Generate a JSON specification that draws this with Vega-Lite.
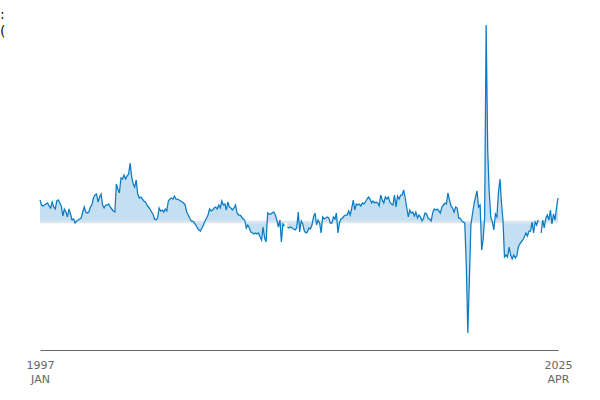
{
  "$schema": "https://vega.github.io/schema/vega-lite/v6.1.0.json",
  "width": 518,
  "height": 330,
  "autosize": {"type": "none"},
  "padding": {"left": 40, "top": 20, "right": 42, "bottom": 50},
  "title": {
    "text": [":", "("],
    "anchor": "start",
    "frame": "group",
    "dx": -40,
    "dy": 23,
    "font": "DejaVu Sans",
    "fontSize": 14,
    "fontWeight": "normal",
    "lineHeight": 17,
    "color": "#111111"
  },
  "data": {
    "values": [
      {"d": "1997-01", "v": 22}, {"d": "1997-02", "v": 17}, {"d": "1997-03", "v": 16}, {"d": "1997-04", "v": 17},
      {"d": "1997-05", "v": 18}, {"d": "1997-06", "v": 19}, {"d": "1997-07", "v": 16}, {"d": "1997-08", "v": 14},
      {"d": "1997-09", "v": 20}, {"d": "1997-10", "v": 15}, {"d": "1997-11", "v": 13}, {"d": "1997-12", "v": 21},
      {"d": "1998-01", "v": 22}, {"d": "1998-02", "v": 19}, {"d": "1998-03", "v": 16}, {"d": "1998-04", "v": 6},
      {"d": "1998-05", "v": 13}, {"d": "1998-06", "v": 10}, {"d": "1998-07", "v": 5}, {"d": "1998-08", "v": 13},
      {"d": "1998-09", "v": 8}, {"d": "1998-10", "v": 2}, {"d": "1998-11", "v": 3}, {"d": "1998-12", "v": -1},
      {"d": "1999-01", "v": 1}, {"d": "1999-02", "v": 2}, {"d": "1999-03", "v": 3}, {"d": "1999-04", "v": 4},
      {"d": "1999-05", "v": 10}, {"d": "1999-06", "v": 15}, {"d": "1999-07", "v": 10}, {"d": "1999-08", "v": 9},
      {"d": "1999-09", "v": 10}, {"d": "1999-10", "v": 15}, {"d": "1999-11", "v": 17}, {"d": "1999-12", "v": 24},
      {"d": "2000-01", "v": 27}, {"d": "2000-02", "v": 28}, {"d": "2000-03", "v": 20}, {"d": "2000-04", "v": 25},
      {"d": "2000-05", "v": 28}, {"d": "2000-06", "v": 17}, {"d": "2000-07", "v": 14}, {"d": "2000-08", "v": 17},
      {"d": "2000-09", "v": 17}, {"d": "2000-10", "v": 18}, {"d": "2000-11", "v": 15}, {"d": "2000-12", "v": 13},
      {"d": "2001-01", "v": 11}, {"d": "2001-02", "v": 10}, {"d": "2001-03", "v": 38}, {"d": "2001-04", "v": 33},
      {"d": "2001-05", "v": 29}, {"d": "2001-06", "v": 44}, {"d": "2001-07", "v": 43}, {"d": "2001-08", "v": 47},
      {"d": "2001-09", "v": 43}, {"d": "2001-10", "v": 46}, {"d": "2001-11", "v": 48}, {"d": "2001-12", "v": 59},
      {"d": "2002-01", "v": 45}, {"d": "2002-02", "v": 38}, {"d": "2002-03", "v": 35}, {"d": "2002-04", "v": 42},
      {"d": "2002-05", "v": 28}, {"d": "2002-06", "v": 24}, {"d": "2002-07", "v": 25}, {"d": "2002-08", "v": 23},
      {"d": "2002-09", "v": 21}, {"d": "2002-10", "v": 20}, {"d": "2002-11", "v": 17}, {"d": "2002-12", "v": 15},
      {"d": "2003-01", "v": 13}, {"d": "2003-02", "v": 10}, {"d": "2003-03", "v": 8}, {"d": "2003-04", "v": 3},
      {"d": "2003-05", "v": 2}, {"d": "2003-06", "v": 4}, {"d": "2003-07", "v": 14}, {"d": "2003-08", "v": 11},
      {"d": "2003-09", "v": 12}, {"d": "2003-10", "v": 10}, {"d": "2003-11", "v": 13}, {"d": "2003-12", "v": 11},
      {"d": "2004-01", "v": 21}, {"d": "2004-02", "v": 23}, {"d": "2004-03", "v": 24}, {"d": "2004-04", "v": 23},
      {"d": "2004-05", "v": 26}, {"d": "2004-06", "v": 23}, {"d": "2004-07", "v": 23}, {"d": "2004-08", "v": 22},
      {"d": "2004-09", "v": 21}, {"d": "2004-10", "v": 20}, {"d": "2004-11", "v": 19}, {"d": "2004-12", "v": 17},
      {"d": "2005-01", "v": 10}, {"d": "2005-02", "v": 7}, {"d": "2005-03", "v": 4}, {"d": "2005-04", "v": 1},
      {"d": "2005-05", "v": 1}, {"d": "2005-06", "v": -1}, {"d": "2005-07", "v": -3}, {"d": "2005-08", "v": -6},
      {"d": "2005-09", "v": -8}, {"d": "2005-10", "v": -9}, {"d": "2005-11", "v": -6}, {"d": "2005-12", "v": -3},
      {"d": "2006-01", "v": 1}, {"d": "2006-02", "v": 4}, {"d": "2006-03", "v": 7}, {"d": "2006-04", "v": 13},
      {"d": "2006-05", "v": 11}, {"d": "2006-06", "v": 12}, {"d": "2006-07", "v": 14}, {"d": "2006-08", "v": 15},
      {"d": "2006-09", "v": 13}, {"d": "2006-10", "v": 17}, {"d": "2006-11", "v": 14}, {"d": "2006-12", "v": 21},
      {"d": "2007-01", "v": 17}, {"d": "2007-02", "v": 18}, {"d": "2007-03", "v": 12}, {"d": "2007-04", "v": 20},
      {"d": "2007-05", "v": 15}, {"d": "2007-06", "v": 14}, {"d": "2007-07", "v": 12}, {"d": "2007-08", "v": 14},
      {"d": "2007-09", "v": 17}, {"d": "2007-10", "v": 9}, {"d": "2007-11", "v": 7}, {"d": "2007-12", "v": 7},
      {"d": "2008-01", "v": 5}, {"d": "2008-02", "v": 3}, {"d": "2008-03", "v": 2}, {"d": "2008-04", "v": -6},
      {"d": "2008-05", "v": -3}, {"d": "2008-06", "v": -6}, {"d": "2008-07", "v": -10}, {"d": "2008-08", "v": -11},
      {"d": "2008-09", "v": -12}, {"d": "2008-10", "v": -11}, {"d": "2008-11", "v": -12}, {"d": "2008-12", "v": -11},
      {"d": "2009-01", "v": -15}, {"d": "2009-02", "v": -18}, {"d": "2009-03", "v": -5}, {"d": "2009-04", "v": -16},
      {"d": "2009-05", "v": -20}, {"d": "2009-06", "v": 9}, {"d": "2009-07", "v": 8}, {"d": "2009-08", "v": 8},
      {"d": "2009-09", "v": 9}, {"d": "2009-10", "v": 10}, {"d": "2009-11", "v": 7}, {"d": "2009-12", "v": 2},
      {"d": "2010-01", "v": -5}, {"d": "2010-02", "v": 2}, {"d": "2010-03", "v": -20}, {"d": "2010-04", "v": -2},
      {"d": "2010-05", "v": -4}, {"d": "2010-06", "v": null}, {"d": "2010-07", "v": -5}, {"d": "2010-08", "v": -6},
      {"d": "2010-09", "v": -5}, {"d": "2010-10", "v": -6}, {"d": "2010-11", "v": -7}, {"d": "2010-12", "v": -8},
      {"d": "2011-01", "v": -6}, {"d": "2011-02", "v": 10}, {"d": "2011-03", "v": -10}, {"d": "2011-04", "v": 1},
      {"d": "2011-05", "v": -2}, {"d": "2011-06", "v": -9}, {"d": "2011-07", "v": -11}, {"d": "2011-08", "v": -10},
      {"d": "2011-09", "v": -6}, {"d": "2011-10", "v": -7}, {"d": "2011-11", "v": -3}, {"d": "2011-12", "v": 5},
      {"d": "2012-01", "v": 9}, {"d": "2012-02", "v": -3}, {"d": "2012-03", "v": 2}, {"d": "2012-04", "v": -1},
      {"d": "2012-05", "v": -11}, {"d": "2012-06", "v": 5}, {"d": "2012-07", "v": 3}, {"d": "2012-08", "v": 4},
      {"d": "2012-09", "v": 5}, {"d": "2012-10", "v": 4}, {"d": "2012-11", "v": -1}, {"d": "2012-12", "v": -1},
      {"d": "2013-01", "v": 5}, {"d": "2013-02", "v": 3}, {"d": "2013-03", "v": 9}, {"d": "2013-04", "v": -11},
      {"d": "2013-05", "v": -1}, {"d": "2013-06", "v": 3}, {"d": "2013-07", "v": 4}, {"d": "2013-08", "v": 6},
      {"d": "2013-09", "v": 7}, {"d": "2013-10", "v": 7}, {"d": "2013-11", "v": 11}, {"d": "2013-12", "v": 7},
      {"d": "2014-01", "v": 14}, {"d": "2014-02", "v": 22}, {"d": "2014-03", "v": 12}, {"d": "2014-04", "v": 18},
      {"d": "2014-05", "v": 17}, {"d": "2014-06", "v": 18}, {"d": "2014-07", "v": 16}, {"d": "2014-08", "v": 19},
      {"d": "2014-09", "v": 18}, {"d": "2014-10", "v": 20}, {"d": "2014-11", "v": 23}, {"d": "2014-12", "v": 25},
      {"d": "2015-01", "v": 23}, {"d": "2015-02", "v": 19}, {"d": "2015-03", "v": 21}, {"d": "2015-04", "v": 19},
      {"d": "2015-05", "v": 20}, {"d": "2015-06", "v": 19}, {"d": "2015-07", "v": 16}, {"d": "2015-08", "v": 27},
      {"d": "2015-09", "v": 22}, {"d": "2015-10", "v": 19}, {"d": "2015-11", "v": 25}, {"d": "2015-12", "v": 23},
      {"d": "2016-01", "v": 25}, {"d": "2016-02", "v": 20}, {"d": "2016-03", "v": 18}, {"d": "2016-04", "v": 17},
      {"d": "2016-05", "v": 27}, {"d": "2016-06", "v": 15}, {"d": "2016-07", "v": 26}, {"d": "2016-08", "v": 23},
      {"d": "2016-09", "v": 27}, {"d": "2016-10", "v": 27}, {"d": "2016-11", "v": 32}, {"d": "2016-12", "v": 24},
      {"d": "2017-01", "v": 14}, {"d": "2017-02", "v": 5}, {"d": "2017-03", "v": 12}, {"d": "2017-04", "v": 9},
      {"d": "2017-05", "v": 10}, {"d": "2017-06", "v": 6}, {"d": "2017-07", "v": 10}, {"d": "2017-08", "v": 4},
      {"d": "2017-09", "v": 7}, {"d": "2017-10", "v": 5}, {"d": "2017-11", "v": 1}, {"d": "2017-12", "v": 4},
      {"d": "2018-01", "v": 9}, {"d": "2018-02", "v": 8}, {"d": "2018-03", "v": 4}, {"d": "2018-04", "v": 3},
      {"d": "2018-05", "v": 1}, {"d": "2018-06", "v": 9}, {"d": "2018-07", "v": 13}, {"d": "2018-08", "v": 12},
      {"d": "2018-09", "v": 13}, {"d": "2018-10", "v": 11}, {"d": "2018-11", "v": 9}, {"d": "2018-12", "v": 15},
      {"d": "2019-01", "v": 17}, {"d": "2019-02", "v": 19}, {"d": "2019-03", "v": 18}, {"d": "2019-04", "v": 29},
      {"d": "2019-05", "v": 22}, {"d": "2019-06", "v": 16}, {"d": "2019-07", "v": 14}, {"d": "2019-08", "v": 10},
      {"d": "2019-09", "v": 15}, {"d": "2019-10", "v": 14}, {"d": "2019-11", "v": 4}, {"d": "2019-12", "v": 4},
      {"d": "2020-01", "v": 1}, {"d": "2020-02", "v": 0}, {"d": "2020-03", "v": -1}, {"d": "2020-04", "v": -44},
      {"d": "2020-05", "v": -111}, {"d": "2020-06", "v": -58}, {"d": "2020-07", "v": -3}, {"d": "2020-08", "v": 8},
      {"d": "2020-09", "v": 18}, {"d": "2020-10", "v": 25}, {"d": "2020-11", "v": 31}, {"d": "2020-12", "v": 15},
      {"d": "2021-01", "v": 17}, {"d": "2021-02", "v": -28}, {"d": "2021-03", "v": -18}, {"d": "2021-04", "v": 5},
      {"d": "2021-05", "v": 197}, {"d": "2021-06", "v": 72}, {"d": "2021-07", "v": 30}, {"d": "2021-08", "v": 5},
      {"d": "2021-09", "v": 0}, {"d": "2021-10", "v": -8}, {"d": "2021-11", "v": 8}, {"d": "2021-12", "v": 5},
      {"d": "2022-01", "v": 30}, {"d": "2022-02", "v": 43}, {"d": "2022-03", "v": 20}, {"d": "2022-04", "v": 2},
      {"d": "2022-05", "v": -35}, {"d": "2022-06", "v": -33}, {"d": "2022-07", "v": -35}, {"d": "2022-08", "v": -25},
      {"d": "2022-09", "v": -33}, {"d": "2022-10", "v": -37}, {"d": "2022-11", "v": -33}, {"d": "2022-12", "v": -36},
      {"d": "2023-01", "v": -34}, {"d": "2023-02", "v": -25}, {"d": "2023-03", "v": -22}, {"d": "2023-04", "v": -20},
      {"d": "2023-05", "v": -18}, {"d": "2023-06", "v": -15}, {"d": "2023-07", "v": -11}, {"d": "2023-08", "v": -14},
      {"d": "2023-09", "v": -9}, {"d": "2023-10", "v": -9}, {"d": "2023-11", "v": 0}, {"d": "2023-12", "v": -11},
      {"d": "2024-01", "v": 0}, {"d": "2024-02", "v": -3}, {"d": "2024-03", "v": 2}, {"d": "2024-04", "v": null},
      {"d": "2024-05", "v": -11}, {"d": "2024-06", "v": 2}, {"d": "2024-07", "v": -6}, {"d": "2024-08", "v": 4},
      {"d": "2024-09", "v": 7}, {"d": "2024-10", "v": 2}, {"d": "2024-11", "v": 12}, {"d": "2024-12", "v": -2},
      {"d": "2025-01", "v": 8}, {"d": "2025-02", "v": 2}, {"d": "2025-03", "v": 14}, {"d": "2025-04", "v": 24}
    ]
  },
  "layer": [
    {
      "mark": {"type": "area", "color": "#c3dff1", "invalid": "break-paths-show-domains"},
      "encoding": {
        "x": {
          "field": "d",
          "type": "temporal",
          "scale": {"type": "utc", "nice": false},
          "axis": {
            "title": null,
            "values": [
              {"year": 1997, "month": 1, "date": 1, "utc": true},
              {"year": 2025, "month": 4, "date": 1, "utc": true}
            ],
            "labelExpr": "[utcFormat(datum.value, '%Y'), upper(utcFormat(datum.value, '%b'))]",
            "labelFont": "DejaVu Sans",
            "labelFontSize": 11,
            "labelColor": "#666666",
            "labelLineHeight": 14,
            "labelPadding": 9,
            "labelFlush": false,
            "labelOverlap": false,
            "ticks": false,
            "grid": false,
            "domainColor": "#666666",
            "domainWidth": 1
          }
        },
        "y": {"field": "v", "type": "quantitative", "scale": {"domain": [-128, 202], "nice": false, "zero": false}, "axis": null}
      }
    },
    {
      "data": {"values": [{"zero": 0}]},
      "mark": {"type": "rule", "color": "#dde6ec", "strokeWidth": 2.5},
      "encoding": {
        "y": {"field": "zero", "type": "quantitative"}
      }
    },
    {
      "mark": {"type": "line", "color": "#0b7bc4", "strokeWidth": 1.25, "invalid": "break-paths-show-domains"},
      "encoding": {
        "x": {"field": "d", "type": "temporal"},
        "y": {"field": "v", "type": "quantitative"}
      }
    }
  ],
  "config": {"view": {"stroke": null}}
}
